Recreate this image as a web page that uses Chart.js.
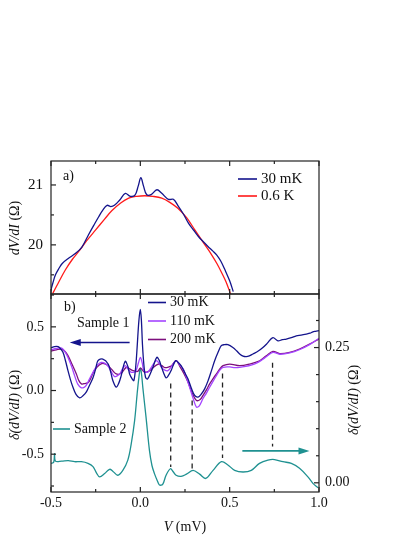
<!DOCTYPE html>
<html lang="en">
<head>
<meta charset="UTF-8">
<title>dV/dI spectra</title>
<script src="https://cdn.jsdelivr.net/npm/chart.js@4.4.0/dist/chart.umd.min.js"></script>
<style>
  html, body { margin: 0; padding: 0; background: #fff; }
  #wrap { position: relative; width: 415px; height: 537px; }
  #wrap canvas { position: absolute; left: 0; top: 0; }
</style>
</head>
<body>
<div id="wrap">
  <canvas id="topChart" width="415" height="537"></canvas>
  <canvas id="botChart" width="415" height="537"></canvas>
</div>
<script>
// ---- panel a): dV/dI (Ohm) vs V (mV) ----
const aV30 = [-0.503, -0.49, -0.475, -0.455, -0.437, -0.40, -0.366, -0.328, -0.29, -0.26, -0.233, -0.21, -0.186, -0.165, -0.145, -0.115, -0.084, -0.056, -0.03, -0.012, 0.003, 0.018, 0.035, 0.06, 0.093, 0.12, 0.157, 0.185, 0.214, 0.24, 0.27, 0.30, 0.325, 0.35, 0.38, 0.405, 0.428, 0.45, 0.474, 0.50, 0.52];
const aR30 = [19.22, 19.36, 19.50, 19.61, 19.69, 19.78, 19.85, 19.96, 20.17, 20.33, 20.47, 20.58, 20.66, 20.64, 20.66, 20.75, 20.86, 20.81, 20.83, 20.98, 21.12, 20.98, 20.84, 20.84, 20.92, 20.86, 20.76, 20.76, 20.64, 20.52, 20.36, 20.24, 20.14, 20.06, 19.97, 19.90, 19.83, 19.73, 19.58, 19.40, 19.22];
const aV06 = [-0.49, -0.46, -0.42, -0.38, -0.345, -0.30, -0.25, -0.20, -0.16, -0.11, -0.065, -0.02, 0.025, 0.07, 0.12, 0.165, 0.21, 0.26, 0.305, 0.35, 0.40, 0.43, 0.456, 0.48, 0.505];
const aR06 = [19.19, 19.36, 19.58, 19.76, 19.89, 20.07, 20.25, 20.43, 20.57, 20.70, 20.78, 20.81, 20.82, 20.81, 20.78, 20.71, 20.61, 20.45, 20.25, 20.05, 19.83, 19.68, 19.53, 19.38, 19.18];

// ---- panel b): sample 1, delta(dV/dI) (Ohm), left axis ----
const bV30 = [-0.50, -0.48, -0.46, -0.445, -0.433, -0.42, -0.405, -0.39, -0.377, -0.36, -0.34, -0.32, -0.303, -0.285, -0.265, -0.25, -0.237, -0.21, -0.18, -0.165, -0.154, -0.135, -0.12, -0.107, -0.085, -0.07, -0.06, -0.045, -0.036, -0.025, -0.018, -0.008, 0.0, 0.006, 0.012, 0.02, 0.029, 0.04, 0.055, 0.07, 0.092, 0.105, 0.116, 0.13, 0.144, 0.158, 0.172, 0.197, 0.212, 0.228, 0.245, 0.256, 0.267, 0.285, 0.304, 0.323, 0.34, 0.36, 0.38, 0.398, 0.415, 0.435, 0.453, 0.47, 0.49, 0.518, 0.54, 0.556, 0.575, 0.593, 0.61, 0.63, 0.66, 0.686, 0.71, 0.742, 0.77, 0.795, 0.817, 0.845, 0.873, 0.90, 0.929, 0.95, 0.966, 0.98, 1.0];
const bS30 = [0.335, 0.345, 0.344, 0.325, 0.30, 0.24, 0.156, 0.08, 0.026, -0.03, -0.057, -0.04, -0.013, 0.04, 0.10, 0.17, 0.234, 0.247, 0.208, 0.14, 0.078, 0.026, 0.06, 0.117, 0.229, 0.19, 0.13, 0.09, 0.078, 0.20, 0.338, 0.55, 0.638, 0.55, 0.36, 0.20, 0.104, 0.09, 0.13, 0.18, 0.26, 0.24, 0.195, 0.14, 0.099, 0.12, 0.156, 0.234, 0.22, 0.195, 0.15, 0.12, 0.09, 0.02, -0.039, -0.052, -0.03, 0.013, 0.08, 0.156, 0.23, 0.30, 0.352, 0.36, 0.36, 0.338, 0.31, 0.287, 0.27, 0.266, 0.272, 0.287, 0.31, 0.338, 0.37, 0.416, 0.39, 0.40, 0.404, 0.415, 0.43, 0.435, 0.443, 0.45, 0.461, 0.465, 0.47];
const bV110 = [-0.50, -0.47, -0.44, -0.42, -0.405, -0.385, -0.368, -0.35, -0.33, -0.315, -0.303, -0.285, -0.265, -0.24, -0.219, -0.20, -0.18, -0.16, -0.144, -0.13, -0.115, -0.10, -0.085, -0.07, -0.051, -0.035, -0.024, -0.01, 0.0, 0.01, 0.02, 0.04, 0.065, 0.088, 0.105, 0.12, 0.137, 0.154, 0.175, 0.20, 0.221, 0.24, 0.256, 0.275, 0.295, 0.314, 0.33, 0.35, 0.37, 0.388, 0.41, 0.426, 0.445, 0.463, 0.50, 0.53, 0.556, 0.59, 0.62, 0.65, 0.68, 0.705, 0.742, 0.78, 0.836, 0.89, 0.947, 1.0];
const bS110 = [0.32, 0.33, 0.333, 0.30, 0.26, 0.19, 0.117, 0.05, 0.021, 0.025, 0.04, 0.09, 0.143, 0.20, 0.221, 0.215, 0.19, 0.14, 0.109, 0.115, 0.13, 0.17, 0.195, 0.17, 0.143, 0.145, 0.156, 0.22, 0.26, 0.22, 0.156, 0.143, 0.19, 0.234, 0.215, 0.18, 0.16, 0.156, 0.19, 0.234, 0.20, 0.17, 0.11, 0.03, -0.06, -0.13, -0.12, -0.065, -0.02, 0.026, 0.08, 0.117, 0.16, 0.182, 0.185, 0.18, 0.182, 0.19, 0.20, 0.215, 0.24, 0.265, 0.30, 0.285, 0.295, 0.32, 0.36, 0.41];
const bV200 = [-0.50, -0.47, -0.44, -0.42, -0.405, -0.38, -0.358, -0.345, -0.33, -0.31, -0.29, -0.27, -0.256, -0.23, -0.21, -0.185, -0.163, -0.135, -0.107, -0.079, -0.06, -0.04, -0.015, 0.0, 0.012, 0.025, 0.045, 0.063, 0.10, 0.12, 0.137, 0.16, 0.175, 0.20, 0.221, 0.245, 0.267, 0.29, 0.314, 0.335, 0.35, 0.37, 0.388, 0.41, 0.426, 0.445, 0.463, 0.50, 0.556, 0.612, 0.668, 0.705, 0.742, 0.78, 0.836, 0.891, 0.947, 1.0];
const bS200 = [0.31, 0.32, 0.325, 0.305, 0.274, 0.20, 0.13, 0.08, 0.052, 0.055, 0.065, 0.12, 0.16, 0.20, 0.213, 0.20, 0.17, 0.13, 0.135, 0.182, 0.17, 0.156, 0.15, 0.176, 0.16, 0.143, 0.15, 0.169, 0.208, 0.195, 0.18, 0.185, 0.195, 0.234, 0.19, 0.13, 0.065, -0.02, -0.078, -0.07, -0.04, 0.005, 0.052, 0.10, 0.13, 0.17, 0.195, 0.208, 0.195, 0.208, 0.234, 0.273, 0.307, 0.29, 0.30, 0.326, 0.365, 0.405];

// ---- panel b): sample 2, right axis ----
const bV2 = [-0.50, -0.485, -0.48, -0.475, -0.44, -0.403, -0.368, -0.33, -0.293, -0.265, -0.245, -0.228, -0.20, -0.172, -0.153, -0.126, -0.098, -0.07, -0.051, -0.032, -0.018, -0.008, 0.0, 0.007, 0.014, 0.032, 0.051, 0.065, 0.079, 0.095, 0.107, 0.125, 0.144, 0.168, 0.185, 0.20, 0.228, 0.258, 0.295, 0.332, 0.366, 0.407, 0.454, 0.49, 0.528, 0.575, 0.621, 0.667, 0.714, 0.751, 0.798, 0.845, 0.891, 0.938, 0.966, 0.994];
const bS2 = [0.036, 0.038, 0.054, 0.040, 0.040, 0.041, 0.039, 0.039, 0.036, 0.030, 0.018, 0.011, 0.017, 0.025, 0.021, 0.014, 0.023, 0.042, 0.072, 0.115, 0.164, 0.195, 0.212, 0.200, 0.176, 0.121, 0.060, 0.032, 0.017, 0.004, -0.004, -0.003, 0.014, 0.026, 0.020, 0.014, 0.012, 0.016, 0.023, 0.016, 0.008, 0.023, 0.039, 0.033, 0.023, 0.020, 0.023, 0.036, 0.042, 0.043, 0.039, 0.036, 0.027, 0.011, -0.001, -0.009];

// ---- dashed markers (left axis units) ----
const dashV = [0.17, 0.29, 0.46, 0.74];
const dashTop = [0.055, -0.078, 0.133, 0.219];
const dashBot = [-0.60, -0.625, -0.53, -0.44];

// ---- arrows ----
const arrow1V = [-0.06, -0.395], arrow1Y = 0.377;   // left axis
const arrow2V = [0.571, 0.947], arrow2Y = 0.059;    // right axis

// ---- tick labels ----
const xMajor = [-0.5, 0, 0.5, 1];
const aMajor = [20, 21];
const bMajor = [-0.5, 0, 0.5];
const rMajor = [0, 0.25];

const NAVY = '#14148c', RED = '#ff1a1a', VIOLET = '#a444ff', PURPLE = '#7d0f7d', TEAL = '#1f9191';
const FONT = "'Liberation Serif', 'Times New Roman', serif";

Chart.defaults.font.family = FONT;
Chart.defaults.font.size = 14;
Chart.defaults.color = '#111';

function pts(xs, ys) { return xs.map((x, i) => ({ x: x, y: ys[i] })); }

function majorLabel(list, dec) {
  return v => list.some(m => Math.abs(m - v) < 1e-6) ? v.toFixed(dec) : '';
}

function drawRuns(ctx, x, y, rot, runs) {
  ctx.save();
  ctx.translate(x, y);
  ctx.rotate(rot);
  ctx.textBaseline = 'middle';
  ctx.textAlign = 'left';
  ctx.fillStyle = '#111';
  let w = 0;
  runs.forEach(r => { ctx.font = (r[1] ? 'italic ' : '') + '14px ' + FONT; w += ctx.measureText(r[0]).width; });
  let cx = -w / 2;
  runs.forEach(r => {
    ctx.font = (r[1] ? 'italic ' : '') + '14px ' + FONT;
    ctx.fillText(r[0], cx, 0);
    cx += ctx.measureText(r[0]).width;
  });
  ctx.restore();
}

function legendRow(ctx, x1, x2, y, color, text, size) {
  ctx.strokeStyle = color;
  ctx.lineWidth = 1.6;
  ctx.beginPath(); ctx.moveTo(x1, y); ctx.lineTo(x2, y); ctx.stroke();
  ctx.fillStyle = '#111';
  ctx.font = (size || 14) + 'px ' + FONT;
  ctx.textBaseline = 'middle';
  ctx.textAlign = 'left';
  ctx.fillText(text, x2 + 4, y);
}

function text(ctx, s, x, y) {
  ctx.fillStyle = '#111';
  ctx.font = '14px ' + FONT;
  ctx.textBaseline = 'middle';
  ctx.textAlign = 'left';
  ctx.fillText(s, x, y);
}

function arrow(ctx, x1, x2, y, color) {
  const dir = Math.sign(x2 - x1);
  ctx.strokeStyle = color; ctx.fillStyle = color; ctx.lineWidth = 1.6;
  ctx.beginPath(); ctx.moveTo(x1, y); ctx.lineTo(x2 - dir * 8, y); ctx.stroke();
  ctx.beginPath();
  ctx.moveTo(x2, y);
  ctx.lineTo(x2 - dir * 11, y - 3.5);
  ctx.lineTo(x2 - dir * 11, y + 3.5);
  ctx.closePath(); ctx.fill();
}

// frame + inward tick marks
const frameTicks = {
  id: 'frameTicks',
  afterDraw(chart, args, opts) {
    const ctx = chart.ctx, a = chart.chartArea;
    ctx.save();
    ctx.strokeStyle = '#222';
    ctx.lineWidth = 1.2;
    ctx.strokeRect(a.left, a.top, a.right - a.left, a.bottom - a.top);
    Object.keys(opts.edges).forEach(id => {
      const s = chart.scales[id];
      s.ticks.forEach(t => {
        const len = t.label ? 5 : 3;
        const p = s.getPixelForValue(t.value);
        ctx.beginPath();
        opts.edges[id].forEach(e => {
          if (e === 'left') { ctx.moveTo(a.left, p); ctx.lineTo(a.left + len, p); }
          if (e === 'right') { ctx.moveTo(a.right, p); ctx.lineTo(a.right - len, p); }
          if (e === 'top') { ctx.moveTo(p, a.top); ctx.lineTo(p, a.top + len); }
          if (e === 'bottom') { ctx.moveTo(p, a.bottom); ctx.lineTo(p, a.bottom - len); }
        });
        ctx.stroke();
      });
    });
    ctx.restore();
  }
};

const notesTop = {
  id: 'notesTop',
  afterDraw(chart) {
    const ctx = chart.ctx;
    ctx.save();
    text(ctx, 'a)', 63, 176);
    legendRow(ctx, 238, 257, 179, NAVY, '30 mK', 15);
    legendRow(ctx, 238, 257, 196, RED, '0.6 K', 15);
    drawRuns(ctx, 15, 228, -Math.PI / 2, [['dV/dI', true], [' (Ω)', false]]);
    ctx.restore();
  }
};

const notesBot = {
  id: 'notesBot',
  afterDraw(chart) {
    const ctx = chart.ctx, x = chart.scales.x, yl = chart.scales.y, yr = chart.scales.y2;
    ctx.save();
    text(ctx, 'b)', 64, 307);
    legendRow(ctx, 148, 166, 302.5, NAVY, '30 mK');
    legendRow(ctx, 148, 166, 321, VIOLET, '110 mK');
    legendRow(ctx, 148, 166, 339.5, PURPLE, '200 mK');
    text(ctx, 'Sample 1', 77, 323);
    arrow(ctx, x.getPixelForValue(arrow1V[0]), x.getPixelForValue(arrow1V[1]), yl.getPixelForValue(arrow1Y), NAVY);
    legendRow(ctx, 53, 70, 429, TEAL, 'Sample 2');
    arrow(ctx, x.getPixelForValue(arrow2V[0]), x.getPixelForValue(arrow2V[1]), yr.getPixelForValue(arrow2Y), TEAL);
    drawRuns(ctx, 15, 405, -Math.PI / 2, [['δ(dV/dI)', true], [' (Ω)', false]]);
    drawRuns(ctx, 354, 400, -Math.PI / 2, [['δ(dV/dI)', true], [' (Ω)', false]]);
    drawRuns(ctx, 185, 527, 0, [['V', true], [' (mV)', false]]);
    ctx.restore();
  }
};

function line(label, data, color, axis) {
  return { label: label, data: data, borderColor: color, yAxisID: axis || 'y', borderWidth: 1.3, pointRadius: 0, tension: 0.35, fill: false };
}

const xScale = (showLabels, h) => ({
  type: 'linear', min: -0.5, max: 1.0,
  ticks: { display: showLabels, stepSize: 0.25, includeBounds: false, autoSkip: false, maxRotation: 0, padding: 3, callback: majorLabel(xMajor, 1) },
  grid: { display: false, drawTicks: false },
  border: { display: false },
  afterFit(s) { s.height = h; }
});

new Chart(document.getElementById('topChart'), {
  type: 'line',
  data: {
    datasets: [
      line('30 mK', pts(aV30, aR30), NAVY),
      line('0.6 K', pts(aV06, aR06), RED)
    ]
  },
  options: {
    responsive: false, animation: false, events: [],
    layout: { padding: { top: 161, bottom: 243, left: 0, right: 96 } },
    plugins: { legend: { display: false }, tooltip: { enabled: false }, frameTicks: { edges: { x: ['top', 'bottom'], y: ['left'] } } },
    scales: {
      x: xScale(false, 0),
      y: {
        min: 19.18, max: 21.4,
        ticks: { stepSize: 0.5, includeBounds: false, padding: 8, font: { size: 15 }, callback: majorLabel(aMajor, 0) },
        grid: { display: false, drawTicks: false },
        border: { display: false },
        afterFit(s) { s.width = 51; }
      }
    }
  },
  plugins: [frameTicks, notesTop]
});

const dashSets = dashV.map((v, i) => ({
  data: [{ x: v, y: dashTop[i] }, { x: v, y: dashBot[i] }],
  borderColor: '#222', borderWidth: 1.3, borderDash: [5, 4], pointRadius: 0, tension: 0, yAxisID: 'y'
}));

new Chart(document.getElementById('botChart'), {
  type: 'line',
  data: {
    datasets: [
      line('30 mK', pts(bV30, bS30), NAVY),
      line('110 mK', pts(bV110, bS110), VIOLET),
      line('200 mK', pts(bV200, bS200), PURPLE),
      line('Sample 2', pts(bV2, bS2), TEAL, 'y2')
    ].concat(dashSets)
  },
  options: {
    responsive: false, animation: false, events: [],
    layout: { padding: { top: 294, bottom: 0, left: 0, right: 0 } },
    plugins: { legend: { display: false }, tooltip: { enabled: false }, frameTicks: { edges: { x: ['top', 'bottom'], y: ['left'], y2: ['right'] } } },
    scales: {
      x: xScale(true, 45),
      y: {
        position: 'left', min: -0.797, max: 0.758,
        ticks: { stepSize: 0.25, includeBounds: false, padding: 7, callback: majorLabel(bMajor, 1) },
        grid: { display: false, drawTicks: false },
        border: { display: false },
        afterFit(s) { s.width = 51; }
      },
      y2: {
        position: 'right', min: -0.017, max: 0.349,
        ticks: { stepSize: 0.05, includeBounds: false, padding: 6, callback: majorLabel(rMajor, 2) },
        grid: { display: false, drawTicks: false },
        border: { display: false },
        afterFit(s) { s.width = 96; }
      }
    }
  },
  plugins: [frameTicks, notesBot]
});
</script>
</body>
</html>
